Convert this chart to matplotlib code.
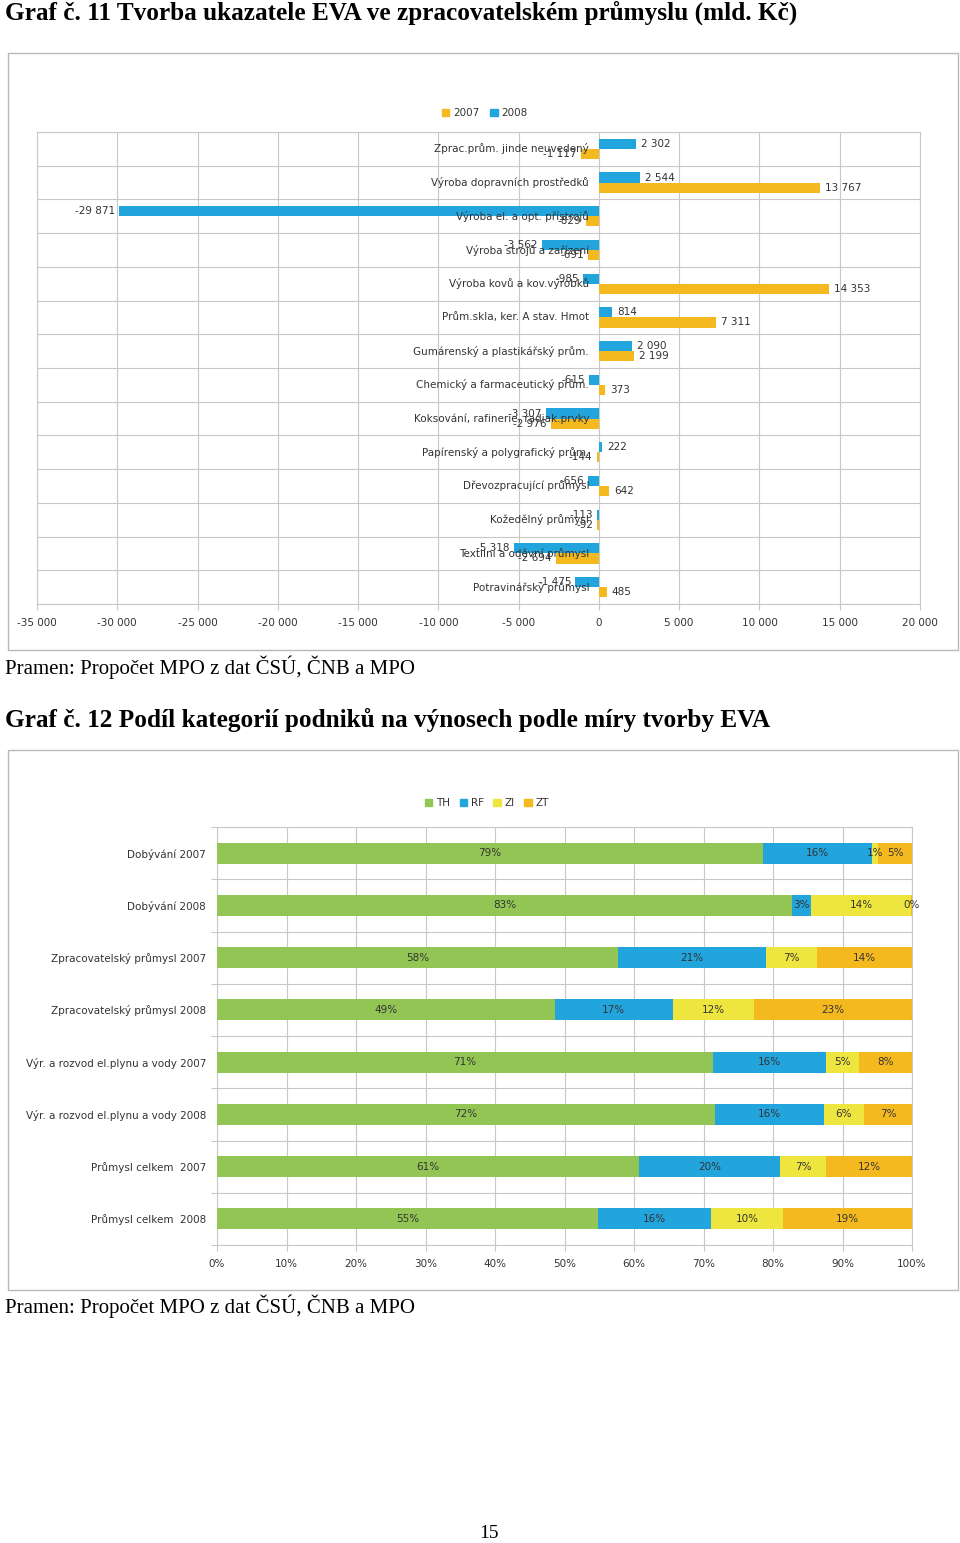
import matplotlib
matplotlib.use("Agg")
import matplotlib.pyplot as plt
from matplotlib.patches import Rectangle, Patch
import numpy as np

W, H, DPI = 960, 1543, 100

# ---------------- Chart 1 data (mld. Kč) ----------------
sectors = [
    "Zprac.prům. jinde neuvedený",
    "Výroba dopravních prostředků",
    "Výroba el. a opt. přístrojů",
    "Výroba strojů a zařízení",
    "Výroba kovů a kov.výrobků",
    "Prům.skla, ker. A stav. Hmot",
    "Gumárenský a plastikářský prům.",
    "Chemický a farmaceutický prům.",
    "Koksování, rafinerie, radiak.prvky",
    "Papírenský a polygrafický prům.",
    "Dřevozpracující průmysl",
    "Kožedělný průmysl",
    "Textilní a oděvní průmysl",
    "Potravinářský průmysl",
]
eva_2008 = [2302, 2544, -29871, -3562, -985, 814, 2090, -615, -3307, 222, -656, -113, -5318, -1475]
eva_2007 = [-1117, 13767, -829, -691, 14353, 7311, 2199, 373, -2976, -144, 642, -92, -2694, 485]
x1_ticks = list(range(-35000, 20001, 5000))

# ---------------- Chart 2 data (%) ----------------
groups = [
    "Dobývání 2007",
    "Dobývání 2008",
    "Zpracovatelský průmysl 2007",
    "Zpracovatelský průmysl 2008",
    "Výr. a rozvod el.plynu a vody 2007",
    "Výr. a rozvod el.plynu a vody 2008",
    "Průmysl celkem  2007",
    "Průmysl celkem  2008",
]
th = [78.6, 82.7, 57.7, 48.6, 71.4, 71.7, 60.7, 54.8]
rf = [15.7, 2.8, 21.3, 17.0, 16.2, 15.6, 20.3, 16.3]
zi = [0.8, 14.3, 7.3, 11.6, 4.8, 5.8, 6.6, 10.3]
zt = [4.9, 0.2, 13.7, 22.8, 7.6, 6.9, 12.4, 18.6]
series2 = ["TH", "RF", "ZI", "ZT"]
x2_ticks = list(range(0, 101, 10))

BLUE = "#22a5dc"
ORANGE = "#f5b920"
GREEN = "#92c553"
YELLOW = "#eee63e"
GRID = "#c8c8c8"
TXT = "#333333"
BORDER = "#b8b8b8"
FS = 7.5

fig = plt.figure(figsize=(W / DPI, H / DPI), dpi=DPI)


def fx(px):
    return px / W


def fy(py):
    return 1 - py / H


def box(x0, y0, x1, y1):
    fig.add_artist(Rectangle((fx(x0), fy(y1)), fx(x1) - fx(x0), fy(y0) - fy(y1),
                             transform=fig.transFigure, fill=False,
                             edgecolor=BORDER, lw=1))


def fmt(v):
    return f"{v:,}".replace(",", " ")


serif = "Liberation Serif"

# Titles / sources
fig.text(fx(5), fy(13), "Graf č. 11 Tvorba ukazatele EVA ve zpracovatelském průmyslu (mld. Kč)",
         fontfamily=serif, fontweight="bold", fontsize=18.2, ha="left", va="center")
fig.text(fx(5), fy(667), "Pramen: Propočet MPO z dat ČSÚ, ČNB a MPO",
         fontfamily=serif, fontsize=15, ha="left", va="center")
fig.text(fx(5), fy(720), "Graf č. 12 Podíl kategorií podniků na výnosech podle míry tvorby EVA",
         fontfamily=serif, fontweight="bold", fontsize=18.2, ha="left", va="center")
fig.text(fx(5), fy(1306), "Pramen: Propočet MPO z dat ČSÚ, ČNB a MPO",
         fontfamily=serif, fontsize=15, ha="left", va="center")
fig.text(fx(489), fy(1533), "15", fontfamily=serif, fontsize=14, ha="center", va="center")

# ---------------- Chart 1 ----------------
box(8, 53, 958, 650)
ax1 = fig.add_axes([fx(37), fy(604), fx(920) - fx(37), fy(132) - fy(604)])
n1 = len(sectors)
y1 = np.arange(n1)
ax1.barh(y1 - 0.15, eva_2008, height=0.3, color=BLUE, zorder=3)
ax1.barh(y1 + 0.15, eva_2007, height=0.3, color=ORANGE, zorder=3)
ax1.set_xlim(-35000, 20000)
ax1.set_ylim(n1 - 0.5, -0.5)
ax1.set_yticks(np.arange(-0.5, n1, 1.0))
ax1.set_yticklabels([])
ax1.tick_params(axis="y", length=0)
ax1.set_xticks(x1_ticks)
ax1.set_xticklabels([fmt(t) for t in x1_ticks])
ax1.tick_params(axis="x", length=4, color=GRID, labelsize=FS, labelcolor=TXT, pad=6)
ax1.grid(True, color=GRID, lw=0.8, zorder=0)
ax1.set_axisbelow(True)
for s in ax1.spines.values():
    s.set_color(GRID)
    s.set_linewidth(0.8)

for i, v in enumerate(eva_2008):
    ax1.annotate(fmt(v), (v, i - 0.15), xytext=(3.5 if v >= 0 else -3, 0),
                 textcoords="offset points", ha="left" if v >= 0 else "right",
                 va="center", fontsize=FS, color=TXT, zorder=5)
for i, v in enumerate(eva_2007):
    ax1.annotate(fmt(v), (v, i + 0.15), xytext=(3.5 if v >= 0 else -3, 0),
                 textcoords="offset points", ha="left" if v >= 0 else "right",
                 va="center", fontsize=FS, color=TXT, zorder=5)
for i, name in enumerate(sectors):
    ax1.annotate(name, (0, i), xytext=(-7, 0), textcoords="offset points",
                 ha="right", va="center", fontsize=FS, color=TXT, zorder=6)

fig.legend(handles=[Patch(color=ORANGE, label="2007"), Patch(color=BLUE, label="2008")],
           loc="center", bbox_to_anchor=(fx(485), fy(113)), ncol=2, frameon=False,
           fontsize=FS, handlelength=0.7, handleheight=0.7, handletextpad=0.4,
           columnspacing=1.0, labelcolor=TXT)

# ---------------- Chart 2 ----------------
box(8, 750, 958, 1290)
ax2 = fig.add_axes([fx(217), fy(1245), fx(912) - fx(217), fy(827) - fy(1245)])
n2 = len(groups)
y2 = np.arange(n2)
left = np.zeros(n2)
colors2 = [GREEN, BLUE, YELLOW, ORANGE]
for vals, col in zip([th, rf, zi, zt], colors2):
    vals = np.array(vals)
    ax2.barh(y2, vals, left=left, height=0.4, color=col, zorder=3)
    for j, v in enumerate(vals):
        ax2.text(left[j] + v / 2, j, f"{int(round(v))}%", ha="center", va="center",
                 fontsize=FS, color=TXT, zorder=5)
    left = left + vals
ax2.set_xlim(0, 100)
ax2.set_ylim(n2 - 0.5, -0.5)
ax2.set_yticks(np.arange(-0.5, n2, 1.0))
ax2.set_yticklabels([])
ax2.set_yticks(y2, minor=True)
ax2.set_yticklabels(groups, minor=True)
ax2.tick_params(axis="y", which="major", length=4, color=GRID)
ax2.tick_params(axis="y", which="minor", length=0, labelsize=FS, labelcolor=TXT, pad=8)
ax2.set_xticks(x2_ticks)
ax2.set_xticklabels([f"{t}%" for t in x2_ticks])
ax2.tick_params(axis="x", length=4, color=GRID, labelsize=FS, labelcolor=TXT, pad=6)
ax2.grid(True, which="major", color=GRID, lw=0.8, zorder=0)
ax2.set_axisbelow(True)
for s in ax2.spines.values():
    s.set_color(GRID)
    s.set_linewidth(0.8)

fig.legend(handles=[Patch(color=c, label=l) for c, l in zip(colors2, series2)],
           loc="center", bbox_to_anchor=(fx(487), fy(803)), ncol=4, frameon=False,
           fontsize=FS, handlelength=0.7, handleheight=0.7, handletextpad=0.4,
           columnspacing=0.9, labelcolor=TXT)

fig.savefig("out.png", dpi=DPI)
